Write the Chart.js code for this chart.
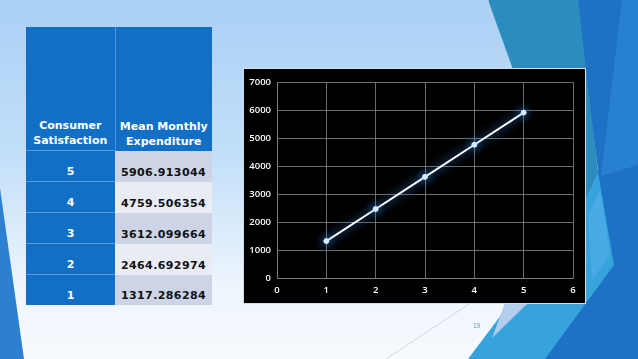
<!DOCTYPE html>
<html>
<head>
<meta charset="utf-8">
<script src="https://cdn.jsdelivr.net/npm/chart.js@4/dist/chart.umd.min.js"></script>
<style>
  html, body { margin: 0; padding: 0; }
  body {
    width: 638px; height: 359px; position: relative; overflow: hidden;
    background: linear-gradient(180deg, #a9d0f6 0%, #c4e0f9 45%, #eef5fd 80%, #f7fafe 100%);
    font-family: "DejaVu Sans", sans-serif;
  }
  #deco { position: absolute; left: 0; top: 0; }
  #tbl {
    position: absolute; left: 26px; top: 27px;
    border-collapse: collapse; table-layout: fixed;
  }
  #tbl td, #tbl th {
    padding: 0 0 2px 0; text-align: center; vertical-align: bottom;
    font-weight: bold; font-size: 11px; line-height: 15px;
  }
  #tbl th { background: #1170c6; color: #fff; height: 121px; }
  #tbl th.c1 { border-right: 1px solid #4d93d8; }
  #tbl td.k { background: #1170c6; color: #fff; border-top: 1px solid #5a9be0; height: 28px; }
  #tbl td.v { color: #111; height: 28px; letter-spacing: 0.4px; }
  #tbl tr.odd td.v { background: #cdd4e6; }
  #tbl tr.even td.v { background: #e9ecf5; }
  #box {
    position: absolute; left: 243px; top: 68px; width: 341px; height: 234px;
    background: #000; border: 1px solid #d3dde8;
  }
  #pg { position: absolute; left: 473px; top: 322px; font-size: 6.5px; color: #6a98c8; font-family: "Liberation Sans", sans-serif; }
</style>
</head>
<body>
<svg id="deco" width="638" height="359">
  <polygon points="0,188 0,359 24,359" fill="#2d7fd0"/>
  <polygon points="575,0 638,0 638,359 505,359 598,170" fill="#1d72c5"/>
  <polygon points="622,0 638,0 638,165 601,176" fill="#2880d3"/>
  <polygon points="488,0 578,0 598,172 585,200 560,200" fill="#2c8cbd"/>
  <polygon points="598,172 614,265 545,359 468,359 520,290 585,200" fill="#37a3dd"/>
  <polygon points="600,190 610,255 592,280 588,215" fill="#4aaae6"/>
  <polygon points="505,303 528,303 492,338" fill="#b3cdec"/>
  <line x1="488" y1="0" x2="502" y2="70" stroke="#c9ced6" stroke-width="0.8"/>
  <line x1="386" y1="359" x2="472" y2="302" stroke="#c9ced6" stroke-width="0.8"/>
</svg>

<table id="tbl">
  <colgroup><col style="width:89px"><col style="width:97px"></colgroup>
  <thead><tr><th class="c1">Consumer<br>Satisfaction</th><th>Mean Monthly<br>Expenditure</th></tr></thead>
  <tbody id="rows"></tbody>
</table>

<div id="box"><canvas id="c" width="341" height="234"></canvas></div>
<div id="pg">19</div>

<script>
// table rows (top to bottom)
const satisfaction = [5, 4, 3, 2, 1];
const expenditure = [5906.913044, 4759.506354, 3612.099664, 2464.692974, 1317.286284];
const xTicks = [0, 1, 2, 3, 4, 5, 6];
const yTicks = [0, 1000, 2000, 3000, 4000, 5000, 6000, 7000];

const rows = document.getElementById('rows');
satisfaction.forEach(function (s, i) {
  const tr = document.createElement('tr');
  tr.className = i % 2 === 0 ? 'odd' : 'even';
  tr.innerHTML = '<td class="k">' + s + '</td><td class="v">' + expenditure[i].toFixed(6) + '</td>';
  rows.appendChild(tr);
});

const points = satisfaction.map(function (s, i) { return { x: s, y: expenditure[i] }; })
  .sort(function (a, b) { return a.x - b.x; });

// blue glow round the line and markers
const glow = {
  id: 'glow',
  beforeDatasetDraw: function (chart) {
    const ctx = chart.ctx;
    ctx.save();
    ctx.shadowColor = 'rgba(60,150,255,1)';
    ctx.shadowBlur = 10;
  },
  afterDatasetDraw: function (chart) {
    chart.ctx.restore();
  }
};

const tickFont = { family: 'Open Sans', size: 9.5, weight: '600' };
const gridColor = '#858585';
const plain = function (v) { return String(v); };

new Chart(document.getElementById('c').getContext('2d'), {
  type: 'scatter',
  data: {
    datasets: [{
      data: points,
      showLine: true,
      borderColor: '#ffffff',
      borderWidth: 2,
      pointRadius: 2.5,
      pointBackgroundColor: '#eaf6ff',
      pointBorderColor: '#cfe8ff',
      pointBorderWidth: 1
    }]
  },
  options: {
    responsive: false,
    animation: false,
    layout: { padding: { left: 0, right: 12, top: 13, bottom: 0 } },
    plugins: { legend: { display: false }, tooltip: { enabled: false } },
    scales: {
      x: {
        type: 'linear', min: xTicks[0], max: xTicks[xTicks.length - 1],
        afterBuildTicks: function (s) { s.ticks = xTicks.map(function (v) { return { value: v }; }); },
        afterFit: function (s) { s.height = 25; },
        ticks: { color: '#ffffff', font: tickFont, padding: 7, callback: plain },
        grid: { color: gridColor, lineWidth: 0.8, drawTicks: false },
        border: { color: gridColor, width: 0.8 }
      },
      y: {
        min: yTicks[0], max: yTicks[yTicks.length - 1],
        afterBuildTicks: function (s) { s.ticks = yTicks.map(function (v) { return { value: v }; }); },
        afterFit: function (s) { s.width = 33; },
        ticks: { color: '#ffffff', font: tickFont, padding: 6, callback: plain },
        grid: { color: gridColor, lineWidth: 0.8, drawTicks: false },
        border: { color: gridColor, width: 0.8 }
      }
    }
  },
  plugins: [glow]
});
</script>
</body>
</html>
